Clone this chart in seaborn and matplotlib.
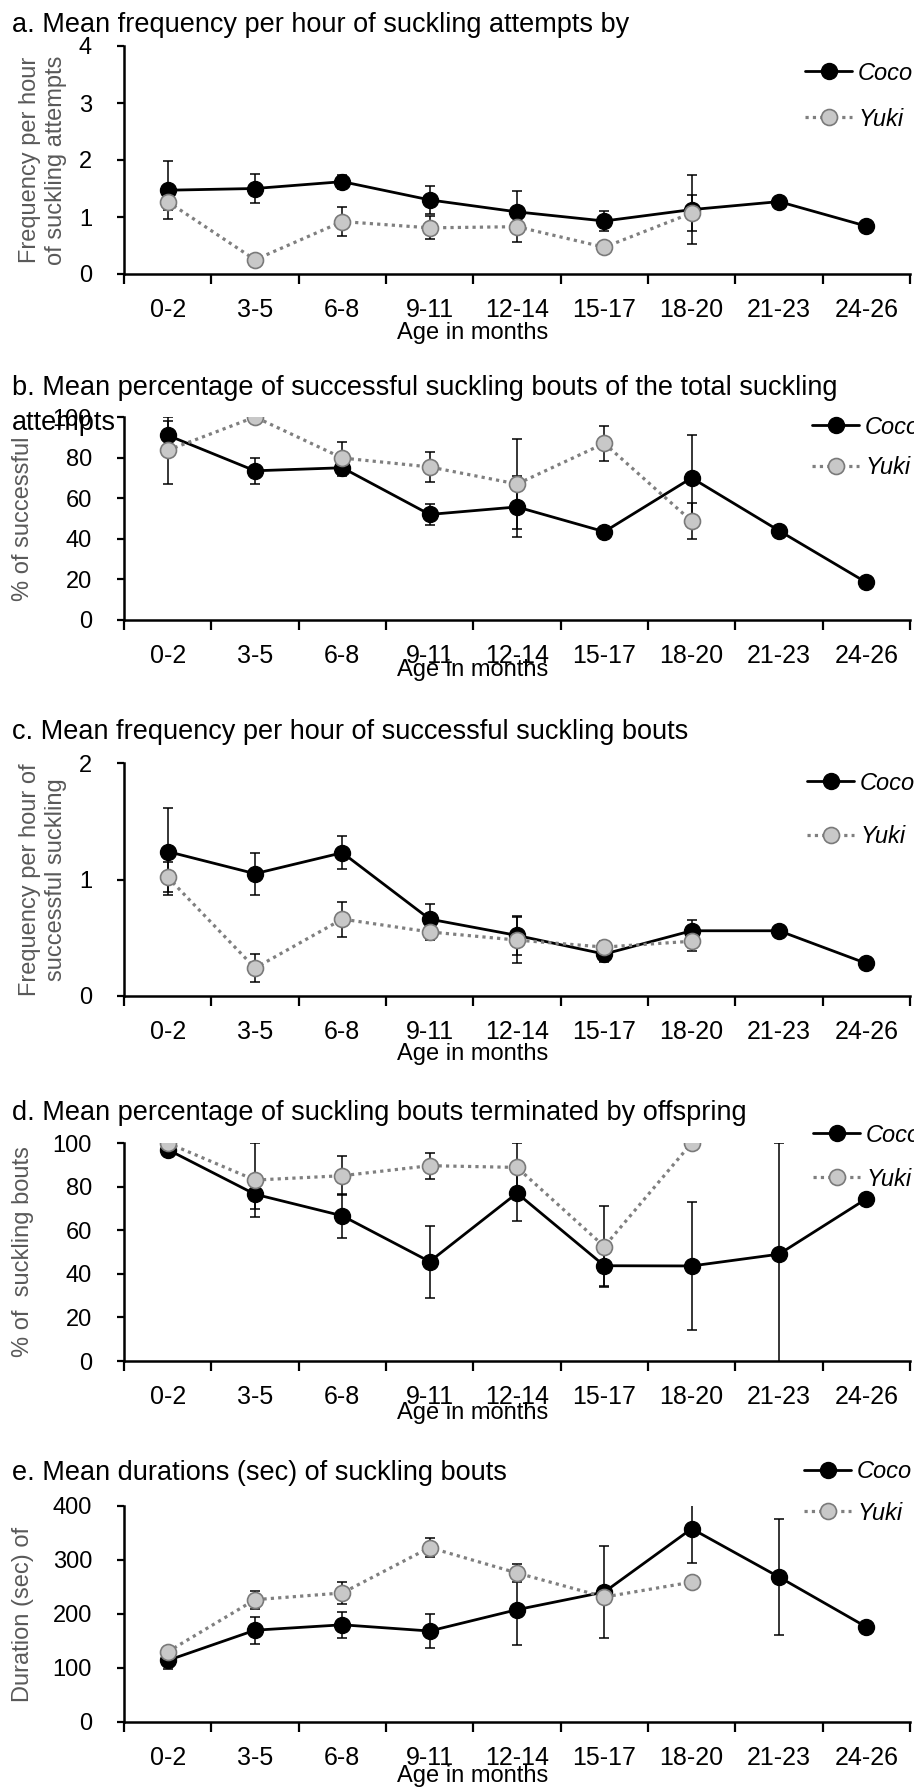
import numpy as np
import pandas as pd
import seaborn as sns
import matplotlib.pyplot as plt
from matplotlib.lines import Line2D

# age classes (months)
ages = ['0-2', '3-5', '6-8', '9-11', '12-14', '15-17', '18-20', '21-23', '24-26']
nan = np.nan

# a. suckling attempts per hour
a_coco = [1.47, 1.50, 1.62, 1.30, 1.09, 0.93, 1.13, 1.27, 0.84]
a_coco_err = [0.51, 0.25, 0.12, 0.24, 0.37, 0.17, 0.60, 0, 0]
a_yuki = [1.27, 0.25, 0.92, 0.81, 0.83, 0.47, 1.07, nan, nan]
a_yuki_err = [0.15, 0.03, 0.25, 0.20, 0.26, 0.05, 0.32, nan, nan]

# b. % successful bouts
b_coco = [91, 73.5, 75, 52, 55.7, 43.5, 70, 44, 18.5]
b_coco_err = [7, 6.5, 4, 5, 15, 2.5, 21, 0, 0]
b_yuki = [83.6, 100, 79.8, 75.4, 67, 87, 48.7, nan, nan]
b_yuki_err = [16.5, 0, 8, 7.5, 22, 8.5, 9, nan, nan]

# c. successful bouts per hour
c_coco = [1.24, 1.05, 1.23, 0.66, 0.52, 0.36, 0.56, 0.56, 0.28]
c_coco_err = [0.37, 0.18, 0.14, 0.13, 0.17, 0.07, 0.09, 0, 0]
c_yuki = [1.02, 0.24, 0.66, 0.55, 0.48, 0.42, 0.47, nan, nan]
c_yuki_err = [0.13, 0.12, 0.15, 0.07, 0.20, 0.05, 0.08, nan, nan]

# d. % bouts terminated by offspring
d_coco = [97, 76.5, 66.6, 45.6, 77, 43.7, 43.6, 49, 74.4]
d_coco_err = [1, 7, 10, 16.5, 13, 9.5, 29.5, 51, 0]
d_yuki = [100, 83, 85, 89.6, 88.8, 52.5, 100, nan, nan]
d_yuki_err = [0, 17, 9, 6, 11, 18.5, 0, nan, nan]

# e. bout duration (sec)
e_coco = [114, 170, 180, 168.5, 208, 240.7, 358, 268.5, 176]
e_coco_err = [16, 25, 24, 31, 65, 85, 64, 108, 0]
e_yuki = [130, 226.5, 239, 323, 276, 231.5, 259, nan, nan]
e_yuki_err = [5, 17, 21, 18, 16, 5, 5, nan, nan]

titles = ['a. Mean frequency per hour of suckling attempts by',
          'b. Mean percentage of successful suckling bouts of the total suckling\nattempts',
          'c. Mean frequency per hour of successful suckling bouts',
          'd. Mean percentage of suckling bouts terminated by offspring',
          'e. Mean durations (sec) of suckling bouts']
ylabels = ['Frequency per hour\nof suckling attempts',
           '% of successful',
           'Frequency per hour of\nsuccessful suckling',
           '% of  suckling bouts',
           'Duration (sec) of']
yticks = [[0, 1, 2, 3, 4], range(0, 101, 20), [0, 1, 2], range(0, 101, 20), range(0, 401, 100)]

sns.set_style('ticks')
plt.rcParams['font.family'] = ['Liberation Sans', 'DejaVu Sans']
plt.rcParams['text.color'] = 'black'

W, H = 914, 1787
fig = plt.figure(figsize=(W / 100, H / 100), dpi=100)

# pixel layout: axes top/bottom, title y, ylabel x, xlabel offset, legend positions
ax_top = [46, 417, 763, 1143, 1506]
ax_bot = [274, 620, 996, 1361, 1722]
title_y = [25, 388, 732, 1113, 1473]
ylab_x = [43, 23, 43, 23, 23]
xlab_off = [59, 50, 58, 52, 54]
leg_x = [805, 812, 807, 813, 804]
leg_y = [(73, 119), (427, 468), (783, 837), (1135, 1179), (1472, 1513)]

coco_style = dict(color='black', linestyle='-', linewidth=2.0, marker='o', markersize=11.5,
                  markerfacecolor='black', markeredgecolor='black', markeredgewidth=1)
yuki_style = dict(color='#7f7f7f', linestyle=(0, (1, 1.3)), linewidth=2.3, marker='o', markersize=11.5,
                  markerfacecolor='#c8c8c8', markeredgecolor='#7a7a7a', markeredgewidth=1.2)

series = [(a_coco, a_coco_err, a_yuki, a_yuki_err),
          (b_coco, b_coco_err, b_yuki, b_yuki_err),
          (c_coco, c_coco_err, c_yuki, c_yuki_err),
          (d_coco, d_coco_err, d_yuki, d_yuki_err),
          (e_coco, e_coco_err, e_yuki, e_yuki_err)]

for i, (cv, ce, yv, ye) in enumerate(series):
    ax = fig.add_axes([124 / W, 1 - ax_bot[i] / H, 786 / W, (ax_bot[i] - ax_top[i]) / H])
    df = pd.concat([
        pd.DataFrame({'pos': range(9), 'age': ages, 'value': cv, 'err': ce, 'animal': 'Coco'}),
        pd.DataFrame({'pos': range(9), 'age': ages, 'value': yv, 'err': ye, 'animal': 'Yuki'})])
    df = df[df['value'].notna()]

    for animal, style, z in [('Coco', coco_style, 3), ('Yuki', yuki_style, 4)]:
        sub = df[df['animal'] == animal]
        eb = sub[sub['err'] > 0]
        ax.errorbar(eb['pos'], eb['value'], yerr=eb['err'], fmt='none', ecolor='black',
                    elinewidth=1.1, capsize=3.5, capthick=1.1, zorder=2)
        sns.lineplot(data=sub, x='pos', y='value', ax=ax, errorbar=None, zorder=z, **style)

    ax.set_xlim(-0.5, 8.5)
    ax.set_ylim(min(yticks[i]), max(yticks[i]))
    ax.set_xticks(range(9))
    ax.set_xticklabels(ages)
    ax.set_xticks(np.arange(-0.5, 9, 1), minor=True)
    ax.set_yticks(list(yticks[i]))
    ax.tick_params(axis='x', which='major', length=0, pad=17, labelsize=18, labelcolor='black')
    ax.tick_params(axis='x', which='minor', length=7.5, width=1.6, direction='out', color='black')
    ax.tick_params(axis='y', length=5, width=1.6, pad=18, labelsize=17, labelcolor='black', color='black')
    ax.set_xlabel('')
    ax.set_ylabel('')
    sns.despine(ax=ax)
    for s in ['left', 'bottom']:
        ax.spines[s].set_linewidth(1.8)
        ax.spines[s].set_color('black')
    ax.annotate('Age in months', xy=(0.443, 0), xycoords='axes fraction', xytext=(0, -xlab_off[i]),
                textcoords='offset pixels', ha='center', va='center', fontsize=17)

    for j, line in enumerate(titles[i].split('\n')):
        fig.text(12 / W, 1 - (title_y[i] + 35 * j) / H, line, ha='left', va='center', fontsize=19.5)
    yc = (ax_top[i] + ax_bot[i]) / 2
    fig.text(ylab_x[i] / W, 1 - yc / H, ylabels[i], rotation=90, ha='center', va='center',
             fontsize=17, color='#595959', linespacing=1.25)

    for (name, style), ly in zip([('Coco', coco_style), ('Yuki', yuki_style)], leg_y[i]):
        h = Line2D([], [], **style)
        fig.legend(handles=[h], labels=[name], loc='center left', frameon=False,
                   bbox_to_anchor=(leg_x[i] / W, 1 - ly / H), borderpad=0, borderaxespad=0,
                   handlelength=2.0, handletextpad=0.25,
                   prop={'style': 'italic', 'size': 17})

fig.savefig('out.png', dpi=100)
